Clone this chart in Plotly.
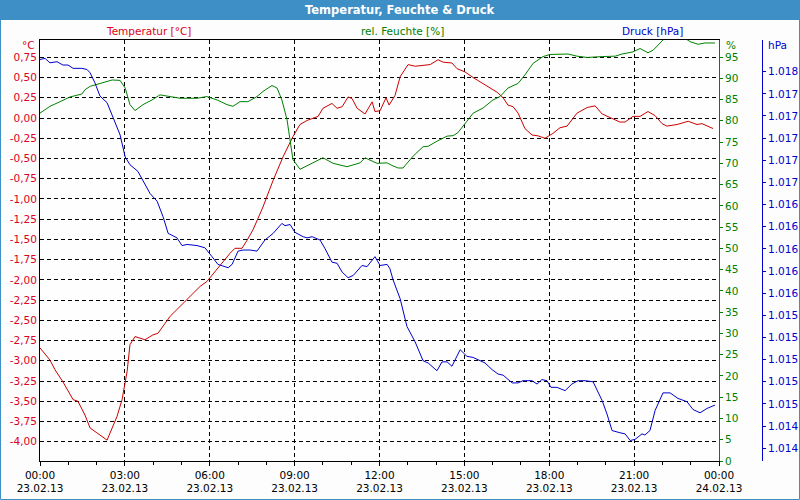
import pandas as pd
import plotly.graph_objects as go

# ---------------- data (hours since 23.02.13 00:00) ----------------
temp_hours = [0.0, 0.35, 0.53, 0.81, 1.17, 1.34, 1.59, 1.77, 2.01, 2.37, 2.72, 2.90, 3.08, 3.18, 3.36,
              3.71, 3.99, 4.17, 4.60, 4.95, 5.30, 5.66, 5.90, 6.08, 6.36, 6.72, 6.89, 7.14, 7.32, 7.53,
              7.88, 8.24, 8.59, 8.94, 9.19, 9.44, 9.83, 10.00, 10.32, 10.50, 10.68, 10.89, 11.03, 11.21,
              11.49, 11.74, 11.84, 12.02, 12.23, 12.34, 12.55, 12.73, 13.01, 13.26, 13.79, 14.07, 14.25,
              14.56, 14.74, 15.02, 15.31, 15.55, 15.84, 16.15, 16.37, 16.54, 16.72, 16.90, 17.14, 17.39,
              17.60, 17.85, 18.13, 18.38, 18.63, 18.98, 19.34, 19.62, 19.87, 20.22, 20.50, 20.68, 20.96,
              21.21, 21.49, 21.74, 21.99, 22.16, 22.52, 22.91, 23.22, 23.40, 23.79]
temp_values = [-2.84, -2.99, -3.11, -3.26, -3.48, -3.50, -3.67, -3.83, -3.89, -3.98, -3.69, -3.48, -3.13,
               -2.80, -2.70, -2.74, -2.68, -2.66, -2.45, -2.33, -2.21, -2.08, -2.02, -1.94, -1.82, -1.67,
               -1.61, -1.61, -1.51, -1.38, -1.10, -0.77, -0.48, -0.23, -0.08, -0.03, 0.02, 0.12, 0.18,
               0.12, 0.14, 0.26, 0.24, 0.12, 0.05, 0.20, 0.08, 0.09, 0.25, 0.16, 0.28, 0.51, 0.66, 0.64,
               0.66, 0.72, 0.69, 0.68, 0.61, 0.57, 0.50, 0.45, 0.39, 0.32, 0.25, 0.16, 0.14, 0.06, -0.13,
               -0.21, -0.22, -0.25, -0.19, -0.12, -0.10, 0.06, 0.13, 0.15, 0.05, -0.01, -0.05, -0.05,
               0.02, 0.02, 0.08, 0.03, -0.07, -0.10, -0.08, -0.04, -0.08, -0.07, -0.13]

hum_hours = [0.0, 0.35, 0.71, 1.06, 1.48, 1.59, 1.77, 2.12, 2.55, 2.83, 3.01, 3.18, 3.36, 3.64, 3.96,
             4.24, 4.60, 4.95, 5.55, 5.90, 6.26, 6.61, 6.82, 7.07, 7.35, 7.67, 7.88, 8.20, 8.38, 8.55,
             8.73, 8.84, 8.94, 9.19, 9.55, 10.00, 10.36, 10.85, 11.31, 11.49, 11.91, 12.27, 12.44,
             12.66, 12.83, 13.19, 13.54, 13.72, 14.03, 14.39, 14.60, 14.77, 15.09, 15.31, 15.66,
             16.01, 16.26, 16.54, 16.90, 17.14, 17.43, 17.78, 18.03, 18.66, 18.98, 19.34, 19.87,
             20.33, 20.57, 20.96, 21.21, 21.49, 21.67, 22.02, 22.30, 22.60, 22.98, 23.26, 23.51, 23.86]
hum_values = [81.8, 83.4, 84.5, 85.6, 86.3, 87.3, 88.1, 88.7, 89.6, 89.5, 87.7, 83.8, 82.4, 83.8, 84.9,
              86.1, 85.7, 85.3, 85.3, 85.7, 84.9, 83.8, 83.4, 84.5, 84.5, 85.7, 86.9, 88.3, 87.7, 84.9,
              80.3, 75.6, 70.9, 68.6, 69.8, 71.3, 70.0, 69.2, 70.1, 71.3, 70.0, 70.1, 69.5, 68.9, 68.9,
              71.7, 73.9, 74.0, 75.2, 76.4, 76.5, 77.2, 79.9, 81.8, 83.0, 84.9, 85.7, 87.7, 88.8, 90.8,
              93.5, 95.1, 95.6, 95.7, 95.2, 94.9, 95.1, 95.2, 95.7, 96.2, 97.0, 96.0, 96.6, 99.0, 100.5,
              100.3, 98.6, 98.0, 98.3, 98.3]

press_hours = [0.0, 0.18, 0.35, 0.60, 0.81, 0.99, 1.17, 1.48, 1.66, 1.77, 1.94, 2.12, 2.37, 2.55, 2.83,
               3.01, 3.18, 3.46, 3.64, 3.89, 4.14, 4.35, 4.53, 4.84, 5.02, 5.20, 5.55, 5.83, 6.08, 6.29,
               6.65, 6.79, 7.00, 7.18, 7.42, 7.67, 7.95, 8.24, 8.55, 8.66, 8.84, 9.01, 9.30, 9.44, 9.62,
               9.90, 10.08, 10.32, 10.50, 10.68, 10.89, 11.07, 11.38, 11.56, 11.84, 12.02, 12.27, 12.37,
               12.48, 12.73, 12.97, 13.26, 13.54, 13.72, 14.03, 14.21, 14.39, 14.56, 14.85, 15.09,
               15.31, 15.73, 15.98, 16.19, 16.37, 16.69, 16.90, 17.07, 17.39, 17.57, 17.74, 17.92,
               18.06, 18.27, 18.56, 18.80, 19.02, 19.27, 19.55, 19.87, 20.04, 20.22, 20.50, 20.68,
               20.86, 21.03, 21.28, 21.38, 21.56, 21.74, 22.02, 22.27, 22.55, 22.87, 23.08, 23.33,
               23.58, 23.86]
press_values = [1017.71, 1017.72, 1017.68, 1017.69, 1017.66, 1017.66, 1017.63, 1017.63, 1017.62, 1017.59,
                1017.50, 1017.38, 1017.32, 1017.21, 1017.03, 1016.83, 1016.76, 1016.70, 1016.62,
                1016.50, 1016.43, 1016.29, 1016.14, 1016.10, 1016.03, 1016.04, 1016.03, 1016.01,
                1015.93, 1015.86, 1015.83, 1015.86, 1015.98, 1015.99, 1015.99, 1015.98, 1016.08,
                1016.14, 1016.23, 1016.21, 1016.22, 1016.15, 1016.11, 1016.10, 1016.11, 1016.08,
                1016.00, 1015.88, 1015.87, 1015.79, 1015.74, 1015.76, 1015.85, 1015.84, 1015.93,
                1015.85, 1015.86, 1015.82, 1015.72, 1015.55, 1015.30, 1015.16, 1014.99, 1014.97,
                1014.90, 1014.98, 1014.98, 1014.94, 1015.09, 1015.03, 1015.02, 1014.97, 1014.91,
                1014.87, 1014.86, 1014.79, 1014.79, 1014.81, 1014.81, 1014.78, 1014.82, 1014.81,
                1014.75, 1014.75, 1014.72, 1014.78, 1014.81, 1014.81, 1014.80, 1014.63, 1014.51,
                1014.36, 1014.34, 1014.33, 1014.27, 1014.28, 1014.33, 1014.32, 1014.36, 1014.54,
                1014.70, 1014.70, 1014.65, 1014.62, 1014.55, 1014.52, 1014.56, 1014.59]

temp_tickvals = [0.75, 0.5, 0.25, 0.0, -0.25, -0.5, -0.75, -1.0, -1.25, -1.5, -1.75, -2.0, -2.25,
                 -2.5, -2.75, -3.0, -3.25, -3.5, -3.75, -4.0]
temp_ticktext = ["0,75", "0,50", "0,25", "0,00", "-0,25", "-0,50", "-0,75", "-1,00", "-1,25", "-1,50",
                 "-1,75", "-2,00", "-2,25", "-2,50", "-2,75", "-3,00", "-3,25", "-3,50", "-3,75", "-4,00"]
hum_tickvals = [0, 5, 10, 15, 20, 25, 30, 35, 40, 45, 50, 55, 60, 65, 70, 75, 80, 85, 90, 95]
press_tickvals = [1017.6, 1017.4, 1017.2, 1017.0, 1016.8, 1016.6, 1016.4, 1016.2, 1016.0, 1015.8,
                  1015.6, 1015.4, 1015.2, 1015.0, 1014.8, 1014.6, 1014.4, 1014.2]
press_ticktext = ["1.018", "1.017", "1.017", "1.017", "1.017", "1.017", "1.016", "1.016", "1.016",
                  "1.016", "1.016", "1.015", "1.015", "1.015", "1.015", "1.015", "1.014", "1.014"]

title_text = "Temperatur, Feuchte & Druck"
series_names = ["Temperatur [°C]", "rel. Feuchte [%]", "Druck [hPa]"]
unit_names = ["°C", "%", "hPa"]

start = pd.Timestamp("2013-02-23 00:00")
end = pd.Timestamp("2013-02-24 00:00")


def to_time(hours):
    return [start + pd.Timedelta(hours=h) for h in hours]


RED = "#cc0000"
RED_T = "#dd0022"
GREEN = "#008000"
BLUE = "#0000cc"
BAR = "#3d8fc6"
FONT = "DejaVu Sans"
GRID_DASH = "4px,3px"

W, H = 800, 500
ML, MR, MT, MB = 40, 20, 40, 39
PW = W - ML - MR
PH = H - MT - MB


def px(x):
    return (x - ML) / PW


def py(y):
    return (H - MB - y) / PH


fig = go.Figure()
fig.add_trace(go.Scatter(x=to_time(temp_hours), y=temp_values, mode="lines",
                         line=dict(color=RED, width=1), yaxis="y", name=series_names[0]))
fig.add_trace(go.Scatter(x=to_time(hum_hours), y=hum_values, mode="lines",
                         line=dict(color=GREEN, width=1), yaxis="y2", name=series_names[1]))
fig.add_trace(go.Scatter(x=to_time(press_hours), y=press_values, mode="lines",
                         line=dict(color=BLUE, width=1), yaxis="y3", name=series_names[2]))

fig.update_layout(
    width=W, height=H,
    margin=dict(l=ML, r=MR, t=MT, b=MB, autoexpand=False),
    paper_bgcolor="#fcfdfc", plot_bgcolor="#fdfefd",
    showlegend=False,
    font=dict(family=FONT, size=10.5),
    xaxis=dict(
        type="date", range=[start, end], domain=[0, px(719)],
        tick0=start, dtick=3 * 3600000, tickformat="%H:%M<br>%d.%m.%y",
        tickfont=dict(color="black", size=10.5, family=FONT),
        ticks="outside", ticklen=4, tickcolor="black",
        showline=True, linecolor="black", linewidth=1, mirror=True,
        showgrid=True, gridcolor="black", griddash=GRID_DASH, gridwidth=1,
        minor=dict(dtick=3600000, tick0=start, ticks="outside", ticklen=3, tickcolor="black", showgrid=False),
        zeroline=False, automargin=False,
    ),
    yaxis=dict(
        range=[-4.238, 0.964], tickvals=temp_tickvals, ticktext=temp_ticktext,
        tickfont=dict(color=RED_T, size=10.5, family=FONT),
        ticks="", showline=True, linecolor="black", linewidth=1,
        showgrid=True, gridcolor="black", griddash=GRID_DASH, gridwidth=1, zeroline=False,
        automargin=False,
    ),
    yaxis2=dict(
        overlaying="y", side="right", anchor="x", range=[0, 99.0],
        tickvals=hum_tickvals, tickfont=dict(color=GREEN, size=10.5, family=FONT),
        ticks="outside", ticklen=3, tickcolor=GREEN,
        showline=True, linecolor=GREEN, linewidth=1, showgrid=False, zeroline=False,
        automargin=False,
    ),
    yaxis3=dict(
        overlaying="y", side="right", anchor="free", position=px(762),
        range=[1014.085, 1017.886], tickvals=press_tickvals, ticktext=press_ticktext,
        tickfont=dict(color=BLUE, size=10.5, family=FONT),
        ticks="outside", ticklen=3, tickcolor=BLUE,
        showline=True, linecolor=BLUE, linewidth=1, showgrid=False, zeroline=False,
        automargin=False,
    ),
)

# title bar and outer border
fig.add_shape(type="rect", xref="paper", yref="paper",
              x0=px(0), x1=px(800), y0=py(20), y1=py(0),
              fillcolor=BAR, line=dict(width=0), layer="above")
fig.add_shape(type="rect", xref="paper", yref="paper",
              x0=px(0.5), x1=px(799.5), y0=py(499.5), y1=py(0.5),
              line=dict(color=BAR, width=1), fillcolor="rgba(0,0,0,0)", layer="above")

fig.add_annotation(text="<b>" + title_text + "</b>", xref="paper", yref="paper",
                   x=px(400), y=py(10), xanchor="center", yanchor="middle", showarrow=False,
                   font=dict(color="white", size=11.5, family=FONT))

for name, cx, col in zip(series_names, [148, 402, 652], [RED_T, GREEN, BLUE]):
    fig.add_annotation(text=name, xref="paper", yref="paper", x=px(cx), y=py(31),
                       xanchor="center", yanchor="middle", showarrow=False,
                       font=dict(color=col, size=10.5, family=FONT))

for name, x, anchor, col in zip(unit_names, [37, 724, 766], ["right", "left", "left"], [RED_T, GREEN, BLUE]):
    fig.add_annotation(text=name, xref="paper", yref="paper", x=px(x), y=py(45),
                       xanchor=anchor, yanchor="middle", showarrow=False,
                       font=dict(color=col, size=10.5, family=FONT))

fig.write_html("out.html")
